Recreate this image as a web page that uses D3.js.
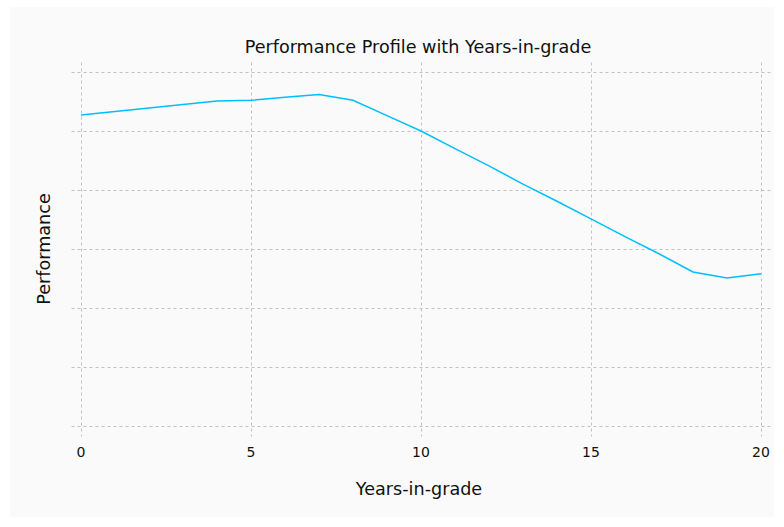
<!DOCTYPE html>
<html>
<head>
<meta charset="utf-8">
<script src="https://cdn.jsdelivr.net/npm/d3@7"></script>
<style>
  body { margin: 0; background: #ffffff; }
  text { font-family: "DejaVu Sans", Verdana, sans-serif; fill: #111; }
</style>
</head>
<body>
<div id="chart"></div>
<script>
// years in grade and performance
var years = [0, 1, 2, 3, 4, 5, 6, 7, 8, 9, 10, 11, 12, 13, 14, 15, 16, 17, 18, 19, 20];
var performance = [5.27, 5.33, 5.39, 5.45, 5.51, 5.52, 5.57, 5.62, 5.52, 5.26, 5.00,
                   4.70, 4.41, 4.10, 3.81, 3.51, 3.21, 2.92, 2.61, 2.51, 2.58];
var xTicks = [0, 5, 10, 15, 20];
var yTicks = [0, 1, 2, 3, 4, 5, 6];

var W = 784, H = 527;
var margin = {top: 72, right: 23, bottom: 101, left: 81};

var svg = d3.select("#chart").append("svg").attr("width", W).attr("height", H);

svg.append("rect").attr("x", 10).attr("y", 7).attr("width", 764).attr("height", 510)
    .attr("fill", "#fafafa");

var x = d3.scaleLinear().domain([0, 20]).range([margin.left, W - margin.right]);
var y = d3.scaleLinear().domain([0, 6]).range([H - margin.bottom, margin.top]);

var g = svg.append("g").attr("transform", "translate(0.5,0.5)");

// horizontal grid
g.selectAll(".hgrid").data(yTicks).enter().append("line")
    .attr("x1", x(0) - 10).attr("x2", x(20) + 10)
    .attr("y1", d => y(d)).attr("y2", d => y(d))
    .attr("stroke", "#c2c2c2").attr("stroke-dasharray", "3,3");

// vertical grid
g.selectAll(".vgrid").data(xTicks).enter().append("line")
    .attr("x1", d => x(d)).attr("x2", d => x(d))
    .attr("y1", y(6) - 10).attr("y2", y(0) + 10)
    .attr("stroke", "#c2c2c2").attr("stroke-dasharray", "3,3");

// x tick labels
svg.selectAll(".xlab").data(xTicks).enter().append("text")
    .attr("x", d => x(d)).attr("y", y(0) + 31)
    .attr("text-anchor", "middle").attr("font-size", "14px")
    .text(d => d);

var line = d3.line().x((d, i) => x(years[i])).y(d => y(d));
svg.append("path").datum(performance)
    .attr("d", line).attr("fill", "none")
    .attr("stroke", "#00bfff").attr("stroke-width", 1.5);

// titles
svg.append("text").attr("x", 418).attr("y", 53).attr("text-anchor", "middle")
    .attr("font-size", "17.6px").text("Performance Profile with Years-in-grade");

svg.append("text").attr("x", 419).attr("y", 495).attr("text-anchor", "middle")
    .attr("font-size", "17.6px").text("Years-in-grade");

svg.append("text").attr("transform", "translate(50,249) rotate(-90)")
    .attr("text-anchor", "middle").attr("font-size", "17.6px").text("Performance");
</script>
</body>
</html>
